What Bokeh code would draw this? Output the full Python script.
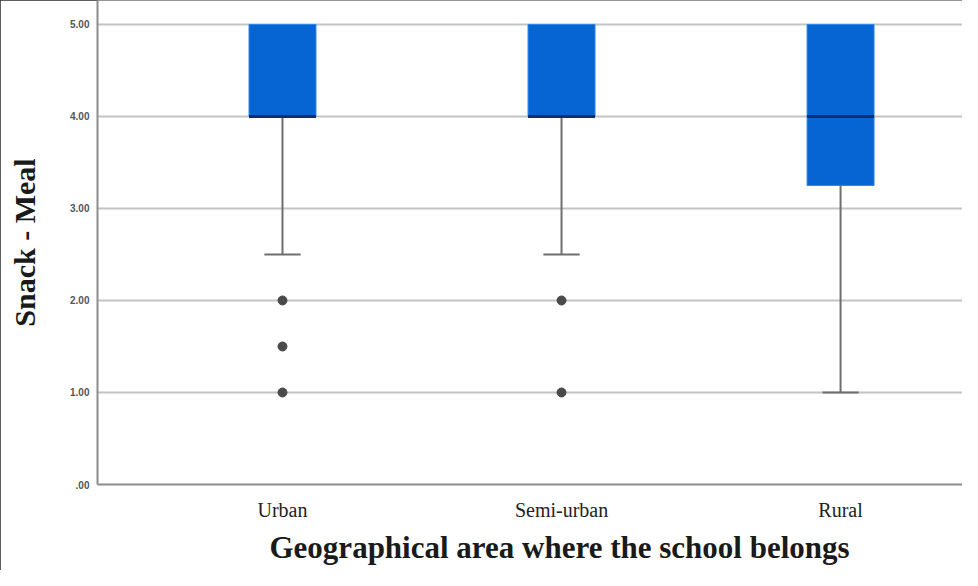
from bokeh.plotting import figure
from bokeh.models import FixedTicker, ColumnDataSource, Title
from bokeh.embed import file_html
from bokeh.resources import INLINE

# ---- data ----
categories = ["Urban", "Semi-urban", "Rural"]
q1 = [4.0, 4.0, 3.25]
median = [4.0, 4.0, 4.0]
q3 = [5.0, 5.0, 5.0]
whisker_low = [2.5, 2.5, 1.0]
whisker_high = [5.0, 5.0, 5.0]
outlier_category = ["Urban", "Urban", "Urban", "Semi-urban", "Semi-urban"]
outlier_value = [2.0, 1.5, 1.0, 2.0, 1.0]
y_ticks = [0, 1, 2, 3, 4, 5]
y_tick_labels = [".00", "1.00", "2.00", "3.00", "4.00", "5.00"]
x_title = "Geographical area where the school belongs"
y_title = "Snack - Meal"

pos = {c: i + 1 for i, c in enumerate(categories)}
xs = [pos[c] for c in categories]
box_w = 0.24
cap_w = 0.13

src = ColumnDataSource(dict(
    x=xs, q1=q1, med=median, q3=q3, lo=whisker_low, hi=whisker_high,
    cap_l=[x - cap_w / 2 for x in xs], cap_r=[x + cap_w / 2 for x in xs],
    med_l=[x - box_w / 2 for x in xs], med_r=[x + box_w / 2 for x in xs],
))
out_src = ColumnDataSource(dict(x=[pos[c] for c in outlier_category], y=outlier_value))

p = figure(width=962, height=570, output_backend="svg", toolbar_location=None,
           x_range=(0.337, 3.437), y_range=(0, 5.26),
           min_border_left=97, min_border_right=0, min_border_top=0, min_border_bottom=86)
p.styles = {"outline": "2px solid #2a2a2a", "outline-offset": "-2px"}
p.outline_line_color = None
p.background_fill_color = "white"
p.border_fill_color = "white"

# grid
p.xgrid.grid_line_color = None
p.ygrid.ticker = FixedTicker(ticks=y_ticks)
p.ygrid.grid_line_color = "#c4c4c4"
p.ygrid.grid_line_width = 2

# whiskers
p.segment(x0="x", y0="lo", x1="x", y1="q1", source=src, line_color="#6e6e6e", line_width=2)
p.segment(x0="x", y0="hi", x1="x", y1="q3", source=src, line_color="#6e6e6e", line_width=2)
p.segment(x0="cap_l", y0="lo", x1="cap_r", y1="lo", source=src, line_color="#6e6e6e", line_width=2)

# boxes
p.vbar(x="x", bottom="q1", top="q3", width=box_w, source=src,
       fill_color="#0765d3", line_color="#2a86e8", line_width=1)
# medians
p.segment(x0="med_l", y0="med", x1="med_r", y1="med", source=src, line_color="#0b2f6e", line_width=3)

# outliers
p.scatter(x="x", y="y", source=out_src, size=9, fill_color="#4a4a4a", line_color="#4a4a4a")

# y axis
ya = p.yaxis[0]
ya.ticker = FixedTicker(ticks=y_ticks)
ya.major_label_overrides = {t: l for t, l in zip(y_ticks, y_tick_labels)}
ya.major_label_text_font = "Liberation Sans"
ya.major_label_text_font_size = "10px"
ya.major_label_text_font_style = "bold"
ya.major_label_text_color = "#555555"
ya.major_label_standoff = 8
ya.major_tick_line_color = None
ya.minor_tick_line_color = None
ya.major_tick_out = 0
ya.axis_line_color = "#8c8c8c"
ya.axis_line_width = 2
ya.axis_label = y_title
ya.axis_label_text_font = "Liberation Serif"
ya.axis_label_text_font_style = "bold"
ya.axis_label_text_font_size = "30px"
ya.axis_label_text_color = "#1a1a1a"
ya.axis_label_standoff = 26

# x axis
xa = p.xaxis[0]
xa.ticker = FixedTicker(ticks=xs)
xa.major_label_overrides = {x: c for x, c in zip(xs, categories)}
xa.major_label_text_font = "Liberation Serif"
xa.major_label_text_font_size = "20px"
xa.major_label_text_color = "#222222"
xa.major_label_standoff = 14
xa.major_tick_line_color = None
xa.minor_tick_line_color = None
xa.major_tick_out = 0
xa.axis_line_color = "#8c8c8c"
xa.axis_line_width = 2

# x title below the axis, placed to the right as in the reference
p.add_layout(Title(text=x_title, align="left", offset=172, standoff=8,
                   text_font="Liberation Serif", text_font_style="bold", text_font_size="31px",
                   text_color="#1a1a1a"), "below")

open("out.html", "w").write(file_html(p, INLINE))
